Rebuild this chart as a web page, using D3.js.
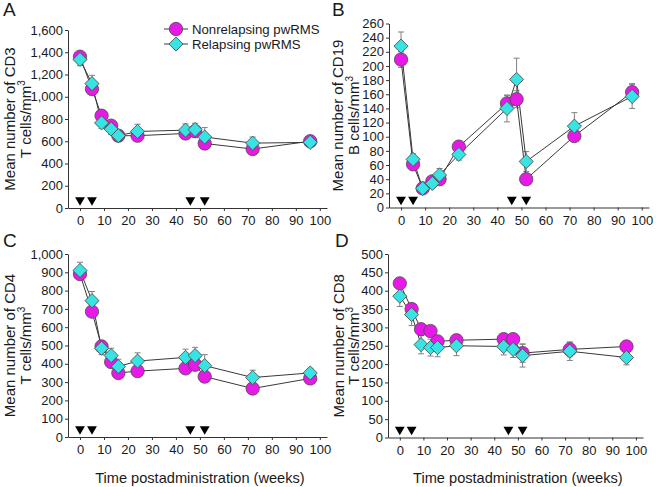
<!DOCTYPE html>
<html>
<head>
<meta charset="utf-8">
<script src="https://cdn.jsdelivr.net/npm/d3@7"></script>
<style>
  body { margin: 0; background: #fff; }
  text { font-family: "Liberation Sans", Arial, sans-serif; fill: #1a1a1a; }
</style>
</head>
<body>
<script>
var weeks = [0, 5, 9, 13, 16, 24, 44, 48, 52, 72, 96];
var arrowWeeks = [0, 5, 46, 52];
var xTicks = [0, 10, 20, 30, 40, 50, 60, 70, 80, 90, 100];

var cd3Non = [1360, 1070, 830, 740, 650, 650, 670, 690, 580, 530, 600];
var cd3NonErr = [30, 40, 40, 40, 40, 40, 40, 40, 40, 30, 30];
var cd3Rel = [1335, 1118, 765, 710, 650, 688, 700, 705, 638, 583, 590];
var cd3RelErr = [55, 75, 50, 50, 50, 65, 56, 57, 85, 55, 30];
var cd3Ticks = [0, 200, 400, 600, 800, 1000, 1200, 1400, 1600];

var cd19Non = [209, 61, 27, 37, 40, 86, 147, 153, 40, 101, 163];
var cd19NonErr = [11, 8, 5, 5, 5, 8, 11, 12, 8, 7, 12];
var cd19Rel = [228, 68, 27, 34, 46, 75, 140, 181, 65, 115, 157];
var cd19RelErr = [20, 8, 5, 5, 9, 8, 19, 30, 14, 19, 17];
var cd19Ticks = [0, 20, 40, 60, 80, 100, 120, 140, 160, 180, 200, 220, 240, 260];

var cd4Non = [890, 685, 495, 410, 350, 360, 375, 395, 330, 265, 320];
var cd4NonErr = [20, 20, 20, 30, 20, 25, 25, 30, 30, 20, 20];
var cd4Rel = [910, 745, 485, 445, 385, 415, 435, 445, 390, 325, 350];
var cd4RelErr = [45, 50, 35, 40, 40, 45, 45, 45, 60, 40, 25];
var cd4Ticks = [0, 100, 200, 300, 400, 500, 600, 700, 800, 900, 1000];

var cd8Non = [420, 350, 295, 290, 262, 265, 268, 268, 230, 240, 248];
var cd8NonErr = [12, 15, 15, 15, 12, 15, 12, 12, 25, 20, 10];
var cd8Rel = [385, 335, 253, 245, 245, 250, 248, 240, 223, 235, 218];
var cd8RelErr = [28, 30, 25, 23, 25, 27, 23, 22, 31, 25, 20];
var cd8Ticks = [0, 50, 100, 150, 200, 250, 300, 350, 400, 450, 500];

var seriesNames = ['Nonrelapsing pwRMS', 'Relapsing pwRMS'];
var xTitle = 'Time postadministration (weeks)';

var panels = [
  {letter: 'A', cell: 'CD3', line2: 'T cells/mm', non: cd3Non, nonErr: cd3NonErr, rel: cd3Rel, relErr: cd3RelErr, ticks: cd3Ticks,
   left: 68, right: 327, top: 30, bottom: 208, lx: 3, ly: 16, t1: 15, t2: 31, legend: true, xtitle: false},
  {letter: 'B', cell: 'CD19', line2: 'B cells/mm', non: cd19Non, nonErr: cd19NonErr, rel: cd19Rel, relErr: cd19RelErr, ticks: cd19Ticks,
   left: 389, right: 649, top: 23.5, bottom: 207.5, lx: 332, ly: 16, t1: 343, t2: 359, legend: false, xtitle: false},
  {letter: 'C', cell: 'CD4', line2: 'T cells/mm', non: cd4Non, nonErr: cd4NonErr, rel: cd4Rel, relErr: cd4RelErr, ticks: cd4Ticks,
   left: 68, right: 327, top: 254, bottom: 437, lx: 3, ly: 247, t1: 15, t2: 31, legend: false, xtitle: true},
  {letter: 'D', cell: 'CD8', line2: 'T cells/mm', non: cd8Non, nonErr: cd8NonErr, rel: cd8Rel, relErr: cd8RelErr, ticks: cd8Ticks,
   left: 388, right: 643, top: 254, bottom: 437.5, lx: 335, ly: 247, t1: 344, t2: 359, legend: false, xtitle: true}
];

var colors = {non: '#e619e6', rel: '#38e3e3'};

var svg = d3.select('body')
            .append('svg')
            .attr('width', 656)
            .attr('height', 487);

var circleSym = d3.symbol().type(d3.symbolCircle).size(140);
var diamondSym = d3.symbol().type(d3.symbolSquare).size(100);
var arrowSym = d3.symbol().type(d3.symbolTriangle).size(42);

panels.forEach(function(p){
  var g = svg.append('g');

  var xScale = d3.scaleLinear()
                 .domain([-5, 103])
                 .range([p.left, p.right]);
  var yScale = d3.scaleLinear()
                 .domain([0, d3.max(p.ticks)])
                 .range([p.bottom, p.top]);

  var xAxis = g.append('g')
               .attr('transform', 'translate(0,' + p.bottom + ')')
               .call(d3.axisBottom(xScale).tickValues(xTicks).tickSize(3).tickSizeOuter(0).tickPadding(5));
  var yAxis = g.append('g')
               .attr('transform', 'translate(' + p.left + ',0)')
               .call(d3.axisLeft(yScale).tickValues(p.ticks).tickSize(3).tickSizeOuter(0).tickPadding(2)
                       .tickFormat(d3.format(',')));
  [xAxis, yAxis].forEach(function(a){
    a.selectAll('path, line').attr('stroke', '#333');
    a.selectAll('text').attr('font-size', 13).attr('fill', '#1a1a1a')
     .attr('font-family', '"Liberation Sans", Arial, sans-serif');
  });

  // treatment arrows
  g.selectAll('.arrow')
   .data(arrowWeeks)
   .enter()
   .append('path')
   .attr('d', arrowSym)
   .attr('transform', function(d){ return 'translate(' + xScale(d) + ',' + (p.bottom - 8) + ') rotate(180)'; })
   .attr('fill', '#000');

  var groups = [
    {vals: p.non, errs: p.nonErr, color: colors.non, sym: circleSym, rot: 0},
    {vals: p.rel, errs: p.relErr, color: colors.rel, sym: diamondSym, rot: 45}
  ];

  // error bars
  groups.forEach(function(s){
    var eb = g.append('g').attr('stroke', '#808080').attr('stroke-width', 1);
    weeks.forEach(function(w, i){
      var x = xScale(w);
      var y1 = yScale(s.vals[i] - s.errs[i]);
      var y2 = yScale(s.vals[i] + s.errs[i]);
      eb.append('line').attr('x1', x).attr('x2', x).attr('y1', y1).attr('y2', y2);
      eb.append('line').attr('x1', x - 3).attr('x2', x + 3).attr('y1', y1).attr('y2', y1);
      eb.append('line').attr('x1', x - 3).attr('x2', x + 3).attr('y1', y2).attr('y2', y2);
    });
  });

  var line = d3.line()
               .x(function(d){ return xScale(d[0]); })
               .y(function(d){ return yScale(d[1]); });

  groups.forEach(function(s){
    g.append('path')
     .datum(d3.zip(weeks, s.vals))
     .attr('d', line)
     .attr('fill', 'none')
     .attr('stroke', '#3a3a3a')
     .attr('stroke-width', 1);
  });

  groups.forEach(function(s){
    g.selectAll(null)
     .data(d3.zip(weeks, s.vals))
     .enter()
     .append('path')
     .attr('d', s.sym)
     .attr('transform', function(d){ return 'translate(' + xScale(d[0]) + ',' + yScale(d[1]) + ') rotate(' + s.rot + ')'; })
     .attr('fill', s.color)
     .attr('stroke', '#4a4a4a')
     .attr('stroke-width', 0.8);
  });

  // panel letter
  g.append('text')
   .attr('x', p.lx)
   .attr('y', p.ly)
   .attr('font-size', 19)
   .text(p.letter);

  // y title
  var yc = (p.top + p.bottom) / 2;
  g.append('text')
   .attr('transform', 'translate(' + p.t1 + ',' + yc + ') rotate(-90)')
   .attr('text-anchor', 'middle')
   .attr('font-size', 15)
   .text('Mean number of ' + p.cell);
  var t2 = g.append('text')
            .attr('transform', 'translate(' + p.t2 + ',' + yc + ') rotate(-90)')
            .attr('text-anchor', 'middle')
            .attr('font-size', 15)
            .text(p.line2);
  t2.append('tspan')
    .attr('font-size', 10)
    .attr('dy', -6)
    .text('3');

  if (p.xtitle) {
    g.append('text')
     .attr('x', xScale(50))
     .attr('y', 483)
     .attr('text-anchor', 'middle')
     .attr('font-size', 14.6)
     .text(xTitle);
  }

  if (p.legend) {
    var lg = g.append('g');
    groups.forEach(function(s, i){
      var ly = 29 + i * 15;
      lg.append('line')
        .attr('x1', 164).attr('x2', 188)
        .attr('y1', ly).attr('y2', ly)
        .attr('stroke', '#3a3a3a');
      lg.append('path')
        .attr('d', s.sym)
        .attr('transform', 'translate(176,' + ly + ') rotate(' + s.rot + ')')
        .attr('fill', s.color)
        .attr('stroke', '#4a4a4a')
        .attr('stroke-width', 0.8);
      lg.append('text')
        .attr('x', 192)
        .attr('y', ly)
        .attr('dy', '0.36em')
        .attr('font-size', 13.2)
        .text(seriesNames[i]);
    });
  }
});
</script>
</body>
</html>
